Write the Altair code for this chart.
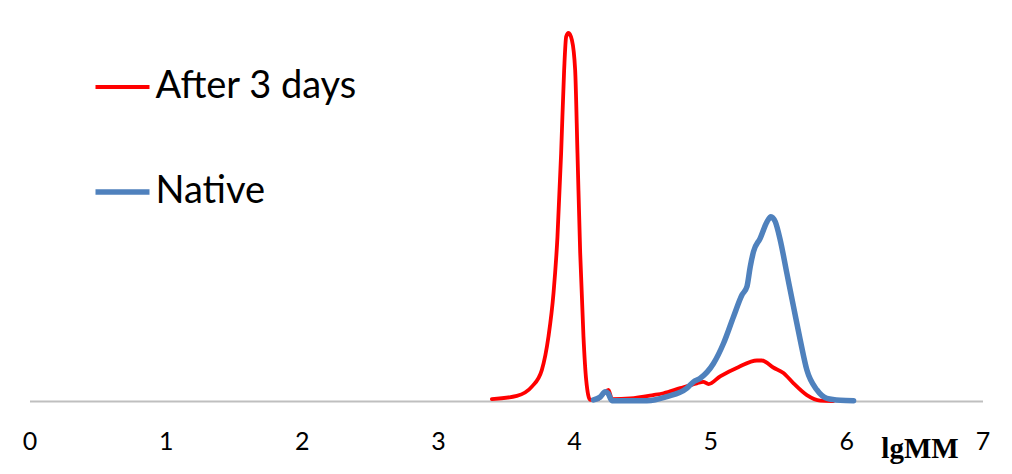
import altair as alt
import pandas as pd

series_names = ["After 3 days", "Native"]

red_x = [3.396, 3.580, 3.690, 3.763, 3.812, 3.849, 3.878, 3.905, 3.927, 3.942,
         3.959, 3.984, 4.008, 4.025, 4.045, 4.069, 4.089, 4.118, 4.177, 4.221,
         4.253, 4.278, 4.412, 4.581, 4.657, 4.780, 4.902, 4.949, 4.988, 5.073,
         5.206, 5.343, 5.380, 5.463, 5.538, 5.612, 5.710, 5.808, 5.904]
red_y = [0.5, 1.4, 3.9, 8.4, 17.5, 29.3, 44.6, 67.4, 89.9, 99.0,
         100.0, 98.1, 89.9, 67.4, 40.2, 17.5, 5.7, 0.3, 0.5, 2.2,
         3.0, 0.5, 0.7, 1.6, 2.1, 3.5, 4.8, 5.2, 4.6, 6.7,
         9.2, 11.0, 11.0, 9.1, 7.6, 4.8, 1.6, 0.1, 0.0]

blue_x = [4.143, 4.192, 4.229, 4.251, 4.278, 4.412, 4.535, 4.682, 4.829, 4.877,
          4.927, 5.024, 5.098, 5.171, 5.233, 5.270, 5.294, 5.318, 5.367, 5.417,
          5.446, 5.478, 5.514, 5.563, 5.612, 5.661, 5.710, 5.784, 5.857, 5.955,
          6.053]
blue_y = [0.3, 1.1, 2.5, 2.0, 0.1, 0.1, 0.1, 1.2, 3.5, 5.2,
          6.2, 10.2, 15.7, 22.9, 28.8, 31.1, 36.5, 40.6, 44.2, 48.7,
          50.1, 48.7, 43.8, 34.7, 25.6, 16.6, 8.4, 3.0, 0.7, 0.2,
          0.1]

x_ticks = [0, 1, 2, 3, 4, 5, 6, 7]

rows = []
for i, (x, y) in enumerate(zip(red_x, red_y)):
    rows.append({"lgMM": x, "value": y, "series": series_names[0], "i": i})
for i, (x, y) in enumerate(zip(blue_x, blue_y)):
    rows.append({"lgMM": x, "value": y, "series": series_names[1], "i": i})
df = pd.DataFrame(rows)

chart = alt.Chart(df).mark_line(interpolate="monotone", strokeCap="round", strokeJoin="round", clip=False).encode(
    x=alt.X("lgMM:Q",
            scale=alt.Scale(domain=[0, 7], nice=False, zero=False),
            axis=alt.Axis(values=x_ticks, format="d", title="lgMM",
                          labelFont="Lato", labelFontSize=25, labelColor="#000000",
                          labelPadding=28, ticks=False, tickSize=0, grid=False,
                          domainColor="#BFBFBF", domainWidth=2,
                          titleFont="Liberation Serif", titleFontWeight="bold",
                          titleFontSize=29, titleColor="#000000",
                          titleX=890, titleY=56, titleAlign="center",
                          titleBaseline="alphabetic", labelFlush=False)),
    y=alt.Y("value:Q", scale=alt.Scale(domain=[0, 100], nice=False), axis=None),
    color=alt.Color("series:N",
                    scale=alt.Scale(domain=series_names, range=["#FF0000", "#4F81BD"]),
                    legend=alt.Legend(title=None, orient="none", legendX=63, legendY=25,
                                      symbolType="stroke", symbolSize=2916,
                                      labelFont="Lato", labelFontSize=38, labelColor="#000000",
                                      labelLimit=0, labelOffset=3, rowPadding=56)),
    strokeWidth=alt.StrokeWidth("series:N",
                                scale=alt.Scale(domain=series_names, range=[3.8, 5.5]),
                                legend=None),
    order="i:Q",
).properties(
    width=953, height=368,
    autosize=alt.AutoSizeParams(type="none"),
    padding={"left": 21.5, "top": 25, "right": 20, "bottom": 64},
).configure_view(stroke=None).configure_legend(symbolStrokeWidth=5)

chart.save("out.html", embed_options={"renderer": "svg", "actions": False})
